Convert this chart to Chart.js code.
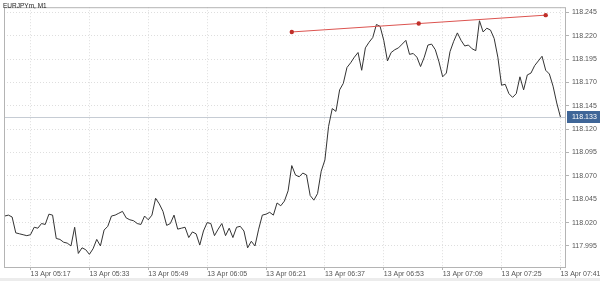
<!DOCTYPE html>
<html>
<head>
<meta charset="utf-8">
<script src="https://cdn.jsdelivr.net/npm/chart.js@4.4.1/dist/chart.umd.min.js"></script>
<style>
  html, body { margin: 0; padding: 0; background: #fff; }
  #chart { display: block; }
</style>
</head>
<body>
<canvas id="chart" width="600" height="281"></canvas>
<script>
const symbolTitle = 'EURJPYm, M1';
const dayLabel = '13 Apr';
const firstBar = '05:10';

// M1 closes, one per minute from 05:10 to 07:41
const closes = [
  118.027, 118.028, 118.026, 118.009, 118.008, 118.007, 118.006, 118.007, 118.015, 118.014,
  118.019, 118.018, 118.029, 118.028, 118.003, 118.002, 117.999, 117.998, 117.995, 118.015,
  117.987, 117.993, 117.991, 117.986, 117.992, 118.002, 117.995, 118.012, 118.016, 118.027,
  118.028, 118.030, 118.032, 118.025, 118.023, 118.022, 118.019, 118.018, 118.027, 118.023,
  118.028, 118.046, 118.040, 118.032, 118.017, 118.019, 118.028, 118.013, 118.014, 118.015,
  118.004, 118.010, 118.008, 117.996, 118.011, 118.020, 118.019, 118.006, 118.013, 118.019,
  118.006, 118.014, 118.004, 118.015, 118.016, 118.011, 117.993, 118.000, 117.995, 118.013,
  118.028, 118.029, 118.031, 118.028, 118.041, 118.038, 118.043, 118.054, 118.081, 118.071,
  118.069, 118.073, 118.071, 118.049, 118.044, 118.051, 118.075, 118.087, 118.123, 118.142,
  118.139, 118.162, 118.169, 118.186, 118.191, 118.197, 118.202, 118.183, 118.207, 118.213,
  118.218, 118.232, 118.230, 118.215, 118.193, 118.202, 118.205, 118.207, 118.211, 118.215,
  118.200, 118.201, 118.197, 118.187, 118.197, 118.210, 118.211, 118.205, 118.192, 118.176,
  118.180, 118.203, 118.214, 118.223, 118.215, 118.209, 118.210, 118.206, 118.204, 118.236,
  118.224, 118.228, 118.226, 118.217, 118.197, 118.167, 118.168, 118.158, 118.154, 118.158,
  118.176, 118.162, 118.178, 118.180, 118.188, 118.193, 118.198, 118.183, 118.179, 118.166,
  118.148, 118.133
];

const xTickTimes = ['05:17', '05:33', '05:49', '06:05', '06:21', '06:37', '06:53', '07:09', '07:25', '07:41'];
const yTicks = [117.995, 118.020, 118.045, 118.070, 118.095, 118.120, 118.145, 118.170, 118.195, 118.220, 118.245];

// trend line: two anchors and the middle handle
const trendTimes = ['06:28', '07:02:30', '07:37'];
const trendValues = [118.224, 118.233, 118.242];

// visible window
const viewFrom = '05:09:48';
const viewTo = '07:42:31';
const yMin = 117.9714;
const yMax = 118.2505;

function toMin(s) {
  const p = s.split(':').map(Number);
  return p[0] * 60 + p[1] + (p[2] || 0) / 60;
}
function fmtTime(m) {
  const h = Math.floor(m / 60), mm = Math.round(m % 60);
  return String(h).padStart(2, '0') + ':' + String(mm).padStart(2, '0');
}

const start = toMin(firstBar);
const lastPrice = closes[closes.length - 1];
const font = 'Arial, "Liberation Sans", Helvetica, sans-serif';

const overlay = {
  id: 'overlay',
  beforeDraw(chart) {
    const { ctx } = chart;
    ctx.save();
    ctx.fillStyle = '#ececec';
    ctx.fillRect(0, 278, chart.width, chart.height - 278);
    ctx.restore();
  },
  beforeDatasetsDraw(chart) {
    const { ctx, chartArea: a, scales: { y } } = chart;
    const py = Math.round(y.getPixelForValue(lastPrice)) + 0.5;
    ctx.save();
    ctx.strokeStyle = '#c6ccd4';
    ctx.lineWidth = 1;
    ctx.beginPath();
    ctx.moveTo(a.left, py);
    ctx.lineTo(a.right, py);
    ctx.stroke();
    ctx.restore();
  },
  afterDraw(chart) {
    const { ctx, chartArea: a, scales: { y } } = chart;
    ctx.save();
    ctx.strokeStyle = '#b4b4b4';
    ctx.lineWidth = 1;
    ctx.strokeRect(a.left + 0.5, a.top + 0.5, a.right - a.left - 1, a.bottom - a.top - 1);

    const py = Math.round(y.getPixelForValue(lastPrice));
    ctx.fillStyle = '#3f6698';
    ctx.fillRect(a.right + 1, py - 6, chart.width - a.right - 1, 12);
    ctx.fillStyle = '#ffffff';
    ctx.font = '7px ' + font;
    ctx.textBaseline = 'middle';
    ctx.fillText(lastPrice.toFixed(3), a.right + 6, py + 0.5);

    ctx.fillStyle = '#222';
    ctx.font = '6.5px ' + font;
    ctx.textBaseline = 'top';
    ctx.fillText(symbolTitle, 3, 3);
    ctx.restore();
  }
};

new Chart(document.getElementById('chart'), {
  type: 'line',
  data: {
    datasets: [
      {
        label: 'trend',
        data: trendTimes.map((t, i) => ({ x: toMin(t), y: trendValues[i] })),
        borderColor: '#dc5450',
        borderWidth: 1,
        pointRadius: 2.2,
        pointBackgroundColor: '#c0302a',
        pointBorderWidth: 0,
        tension: 0
      },
      {
        label: 'EURJPYm',
        data: closes.map((v, i) => ({ x: start + i, y: v })),
        borderColor: '#333333',
        borderWidth: 1,
        pointRadius: 0,
        tension: 0
      }
    ]
  },
  options: {
    responsive: false,
    animation: false,
    devicePixelRatio: 1,
    layout: { padding: { left: 0, top: 0, right: 0, bottom: 0 } },
    plugins: { legend: { display: false }, tooltip: { enabled: false } },
    scales: {
      x: {
        type: 'linear',
        min: toMin(viewFrom),
        max: toMin(viewTo),
        afterBuildTicks: s => { s.ticks = xTickTimes.map(t => ({ value: toMin(t) })); },
        afterFit: s => { s.height = 13; s.paddingLeft = 0; s.paddingRight = 0; },
        grid: { color: '#dedede', tickLength: 2, tickColor: '#b4b4b4' },
        border: { display: false, dash: [1, 2] },
        ticks: {
          align: 'start',
          padding: 0,
          maxRotation: 0,
          autoSkip: false,
          color: '#555',
          font: { family: font, size: 7 },
          callback: v => dayLabel + ' ' + fmtTime(v)
        }
      },
      y: {
        position: 'right',
        min: yMin,
        max: yMax,
        afterBuildTicks: s => { s.ticks = yTicks.map(v => ({ value: v })); },
        afterFit: s => { s.width = 34; },
        grid: { color: '#dedede', tickLength: 3, tickColor: '#b4b4b4' },
        border: { display: false, dash: [1, 2] },
        ticks: {
          padding: 3,
          color: '#555',
          font: { family: font, size: 7 },
          callback: v => Number(v).toFixed(3)
        }
      }
    }
  },
  plugins: [overlay]
});
</script>
</body>
</html>
